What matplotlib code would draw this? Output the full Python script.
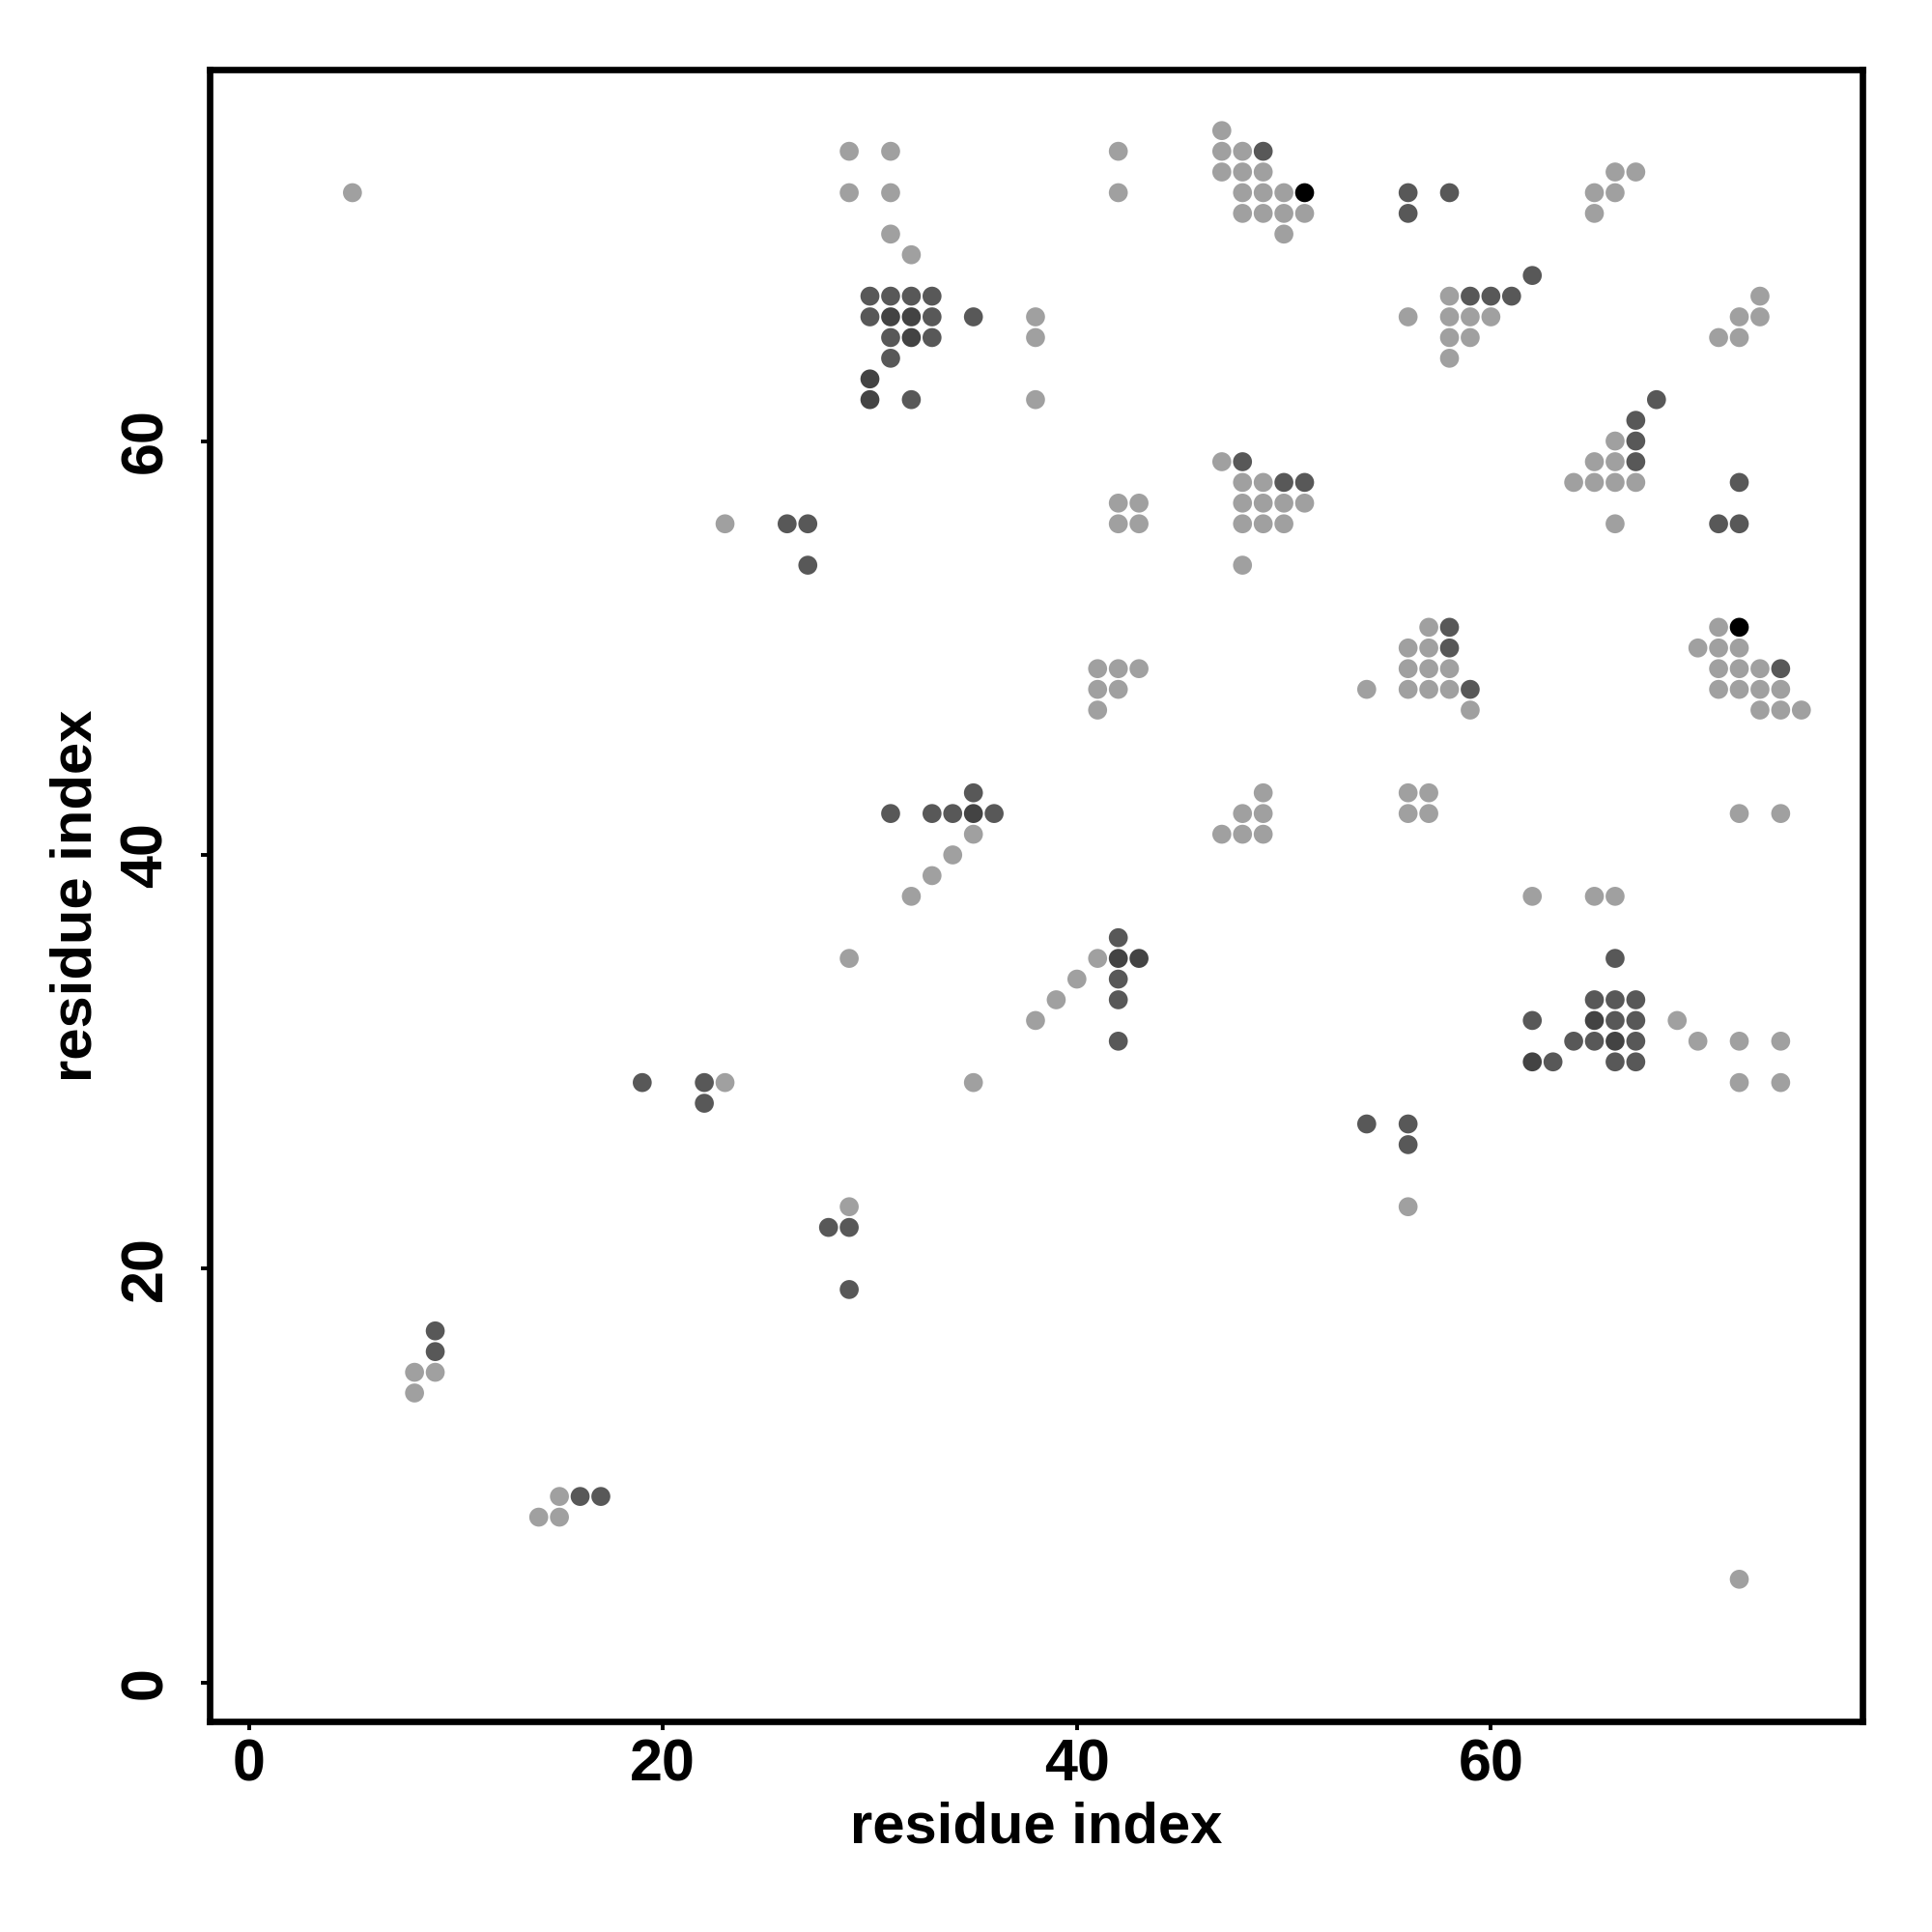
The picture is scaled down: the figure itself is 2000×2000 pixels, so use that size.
import matplotlib
matplotlib.use("Agg")
import matplotlib.pyplot as plt

# contact points (residue i, residue j) grouped by overlap level
light_pts = [
    (5,72),
    (29,74),(31,74),(29,72),(31,72),(31,70),(32,69),
    (38,66),(38,65),(38,62),
    (42,74),(42,72),
    (47,75),(47,74),(48,74),(47,73),(48,73),(49,73),(48,72),(49,72),(50,72),
    (48,71),(49,71),(50,71),(51,71),(50,70),
    (65,72),(66,72),(65,71),(66,73),(67,73),
    (58,67),(56,66),(58,66),(59,66),(60,66),(58,65),(59,65),(58,64),
    (71,65),(72,65),(72,66),(73,66),(73,67),
    (66,60),(65,59),(66,59),(64,58),(65,58),(66,58),(67,58),(66,56),
    (47,59),(48,58),(49,58),(48,57),(49,57),(50,57),(51,57),(48,56),(49,56),(50,56),(48,54),
    (42,57),(43,57),(42,56),(43,56),
    (23,56),
    (57,51),(56,50),(57,50),(56,49),(57,49),(58,49),(54,48),(56,48),(57,48),(58,48),(59,47),
    (71,51),(70,50),(71,50),(72,50),(71,49),(72,49),(73,49),(71,48),(72,48),(73,48),(74,48),
    (73,47),(74,47),(75,47),
    (41,49),(42,49),(43,49),(41,48),(42,48),(41,47),
    (49,43),(48,42),(49,42),(47,41),(48,41),(49,41),
    (56,43),(57,43),(56,42),(57,42),
    (72,42),(74,42),
    (35,41),(34,40),(33,39),(32,38),
    (62,38),(65,38),(66,38),
    (41,35),(40,34),(39,33),(38,32),
    (29,35),
    (69,32),(70,31),(72,31),(74,31),(72,29),(74,29),
    (23,29),(35,29),
    (56,23),(29,23),
    (8,15),(9,15),(8,14),
    (14,8),(15,8),(15,9),
    (72,5),
]

dark_pts = [
    (49,74),
    (30,67),(31,67),(32,67),(33,67),(30,66),(33,66),(35,66),(31,65),(33,65),(31,64),(32,62),
    (56,72),(56,71),(58,72),
    (62,68),(59,67),(60,67),(61,67),
    (68,62),(67,61),(67,60),(67,59),
    (72,58),(71,56),(72,56),
    (48,59),(50,58),(51,58),
    (26,56),(27,56),(27,54),
    (58,51),(58,50),(59,48),(74,49),
    (31,42),(33,42),(34,42),(35,43),(36,42),
    (42,36),(42,34),(42,33),(42,31),
    (66,35),(65,33),(66,33),(67,33),(62,32),(66,32),(67,32),(64,31),(65,31),(67,31),
    (63,30),(66,30),(67,30),
    (19,29),(22,29),(22,28),
    (54,27),(56,27),(56,26),
    (28,22),(29,22),(29,19),
    (9,17),(9,16),
    (16,9),(17,9),
]

darker_pts = [
    (31,66),(32,66),(32,65),(30,63),(30,62),
    (35,42),(42,35),(43,35),
    (66,31),(65,32),(62,30),
]

black_pts = [(51,72),(72,51)]

groups = [
    (light_pts, "#A0A0A0"),
    (dark_pts, "#585858"),
    (darker_pts, "#434343"),
    (black_pts, "#000000"),
]

x_ticks = [0, 20, 40, 60]
y_ticks = [0, 20, 40, 60]

plt.rcParams['font.family'] = ['Liberation Sans', 'DejaVu Sans']

fig = plt.figure(figsize=(10, 10), dpi=200)
ax = fig.add_axes([0.1085, 0.109, 0.8555, 0.855])

for pts, col in groups:
    xs = [p[0] for p in pts]
    ys = [p[1] for p in pts]
    ax.scatter(xs, ys, s=50, c=col, edgecolors='none', zorder=3)

ax.set_xlim(-1.9, 77.95)
ax.set_ylim(-1.87, 77.95)

for sp in ax.spines.values():
    sp.set_linewidth(2.4)
    sp.set_color('black')

ax.set_xticks(x_ticks)
ax.set_yticks(y_ticks)
ax.tick_params(axis='both', direction='out', length=3.2, width=1.4, labelsize=22)
ax.tick_params(axis='x', pad=3)
ax.tick_params(axis='y', pad=10)
for lab in ax.get_xticklabels() + ax.get_yticklabels():
    lab.set_fontweight('bold')
for lab in ax.get_yticklabels():
    lab.set_rotation(90)
    lab.set_va('center')

ax.set_xlabel("residue index", fontsize=21.5, fontweight='bold', va='center')
ax.set_ylabel("residue index", fontsize=21.5, fontweight='bold', va='center')
ax.xaxis.set_label_coords(0.5, -0.0643)
ax.yaxis.set_label_coords(-0.0807, 0.5)

fig.savefig("out.png", dpi=200, facecolor='white')
